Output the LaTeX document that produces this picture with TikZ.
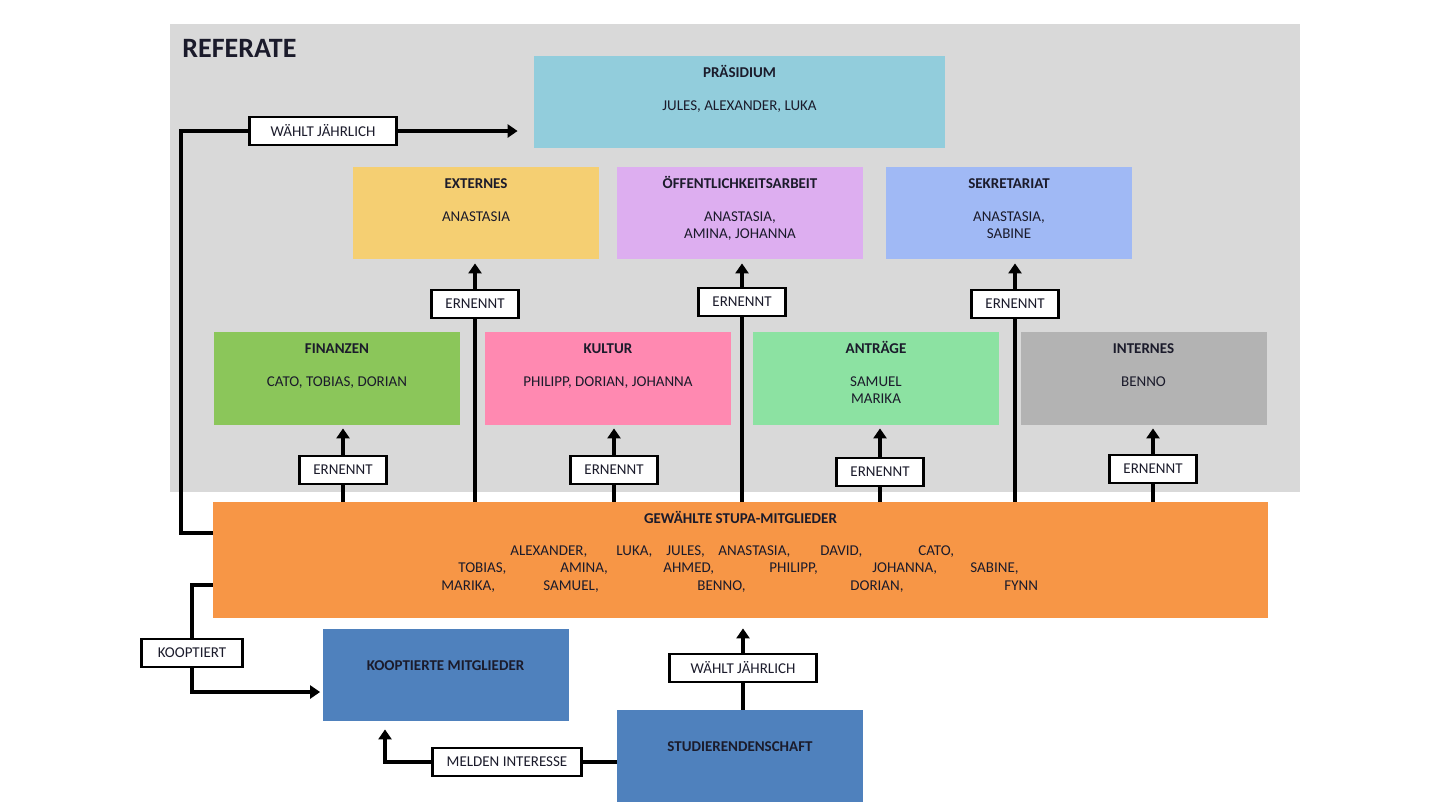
\documentclass[tikz,border=0pt]{standalone}
\usepackage{fontspec}
\setmainfont{Carlito}
\usetikzlibrary{arrows.meta,calc}
\definecolor{grund}{HTML}{D9D9D9}
\definecolor{ink}{HTML}{1B1B2B}
\definecolor{praes}{HTML}{92CDDC}
\definecolor{gelb}{HTML}{F5CF72}
\definecolor{lila}{HTML}{DDAEF0}
\definecolor{hblau}{HTML}{A0B9F5}
\definecolor{gruen}{HTML}{8BC65A}
\definecolor{rosa}{HTML}{FF89B1}
\definecolor{mint}{HTML}{8CE2A2}
\definecolor{grau}{HTML}{B3B3B3}
\definecolor{orange}{HTML}{F79646}
\definecolor{dblau}{HTML}{4F81BD}
\newcommand{\klein}{\fontsize{7.5}{8.5}\selectfont}
\newcommand{\feld}[4][118pt]{\parbox[c][#4][t]{#1}{\centering\rule{0pt}{10.5pt}\textbf{#2}\\[8pt]#3}}
\tikzset{referat/.style={inner sep=0pt,minimum width=123pt,minimum height=46pt,text=ink,font=\klein},
  kasten/.style={draw=black,line width=1.4pt,fill=white,inner xsep=7pt,inner ysep=0pt,
    minimum height=14pt,text=ink,font=\klein},
  linie/.style={line width=2pt},
  pfeil/.style={line width=2pt,-{Triangle[length=5pt,width=6.5pt]}}}

\begin{document}
\begin{tikzpicture}[x=0.5pt,y=-0.5pt]
\useasboundingbox (0,0) rectangle (1440,810);
\fill[grund] (170,24) rectangle (1300,492);
\node[anchor=base west,inner sep=0,text=ink,font=\fontsize{14}{16}\selectfont\bfseries] (titel) at (182,57) {REFERATE};
\node[referat,fill=praes,minimum width=205.5pt] (prae) at (739.5,102) {\feld[200pt]{PRÄSIDIUM}{JULES, ALEXANDER, LUKA}{46pt}};
\node[referat,fill=gelb] (ext) at (476,213) {\feld{EXTERNES}{ANASTASIA}{46pt}};
\node[referat,fill=lila] (oef) at (740,213) {\feld{ÖFFENTLICHKEITSARBEIT}{ANASTASIA,\\AMINA, JOHANNA}{46pt}};
\node[referat,fill=hblau] (sek) at (1009,213) {\feld{SEKRETARIAT}{ANASTASIA,\\SABINE}{46pt}};
\node[referat,fill=gruen] (fin) at (337,378.5) {\feld{FINANZEN}{CATO, TOBIAS, DORIAN}{46.5pt}};
\node[referat,fill=rosa] (kul) at (608,378.5) {\feld{KULTUR}{PHILIPP, DORIAN, JOHANNA}{46.5pt}};
\node[referat,fill=mint] (ant) at (876,378.5) {\feld{ANTRÄGE}{SAMUEL\\MARIKA}{46.5pt}};
\node[referat,fill=grau] (int) at (1143.5,378.5) {\feld{INTERNES}{BENNO}{46.5pt}};
\node[referat,fill=orange,minimum width=527.5pt] (stupa) at (740.5,560) {\feld[500pt]{GEWÄHLTE STUPA-MITGLIEDER}{}{58pt}};
\node[referat,fill=dblau,text depth=9pt] (koop) at (445.5,675) {\textbf{KOOPTIERTE MITGLIEDER}};
\node[referat,fill=dblau,text depth=9pt] (stud) at (740,756) {\textbf{STUDIERENDENSCHAFT}};
\foreach \x/\y/\n [count=\i] in {510/555/{ALEXANDER,},616/555/{LUKA,},666/555/{JULES,},718/555/{ANASTASIA,},
    820/555/{DAVID,},918/555/{CATO,},458/572/{TOBIAS,},560/572/{AMINA,},663/572/{AHMED,},769/572/{PHILIPP,},
    872/572/{JOHANNA,},970/572/{SABINE,},441/590/{MARIKA,},543/590/{SAMUEL,},697/590/{BENNO,},
    850/590/{DORIAN,},1004/590/{FYNN}}
  \node[anchor=base west,inner sep=0,text=ink,font=\klein] (nm\i) at (\x,\y) {\n};
\node[kasten] (e1) at (343,470) {ERNENNT};
\node[kasten] (e2) at (614,470) {ERNENNT};
\node[kasten] (e3) at (880,472) {ERNENNT};
\node[kasten] (e4) at (1153,469) {ERNENNT};
\node[kasten] (e5) at (475,304) {ERNENNT};
\node[kasten] (e6) at (742,302) {ERNENNT};
\node[kasten] (e7) at (1015,304) {ERNENNT};
\node[kasten,inner xsep=10.5pt] (w1) at (323,131) {WÄHLT JÄHRLICH};
\node[kasten,inner xsep=10.5pt] (w2) at (743,668) {WÄHLT JÄHRLICH};
\node[kasten,inner xsep=8pt] (k1) at (192,653) {KOOPTIERT};
\node[kasten] (m1) at (507,762) {MELDEN INTERESSE};
\coordinate (eckeA) at (181,131);
\draw[linie] (stupa.north -| e1) -- (e1); \draw[pfeil,shorten >=1.5pt] (e1) -- (e1 |- fin.south);
\draw[linie] (stupa.north -| e2) -- (e2); \draw[pfeil,shorten >=1.5pt] (e2) -- (e2 |- kul.south);
\draw[linie] (stupa.north -| e3) -- (e3); \draw[pfeil,shorten >=1.5pt] (e3) -- (e3 |- ant.south);
\draw[linie] (stupa.north -| e4) -- (e4); \draw[pfeil,shorten >=1.5pt] (e4) -- (e4 |- int.south);
\draw[linie] (stupa.north -| e5) -- (e5); \draw[pfeil,shorten >=2pt] (e5) -- (e5 |- ext.south);
\draw[linie] (stupa.north -| e6) -- (e6); \draw[pfeil,shorten >=2pt] (e6) -- (e6 |- oef.south);
\draw[linie] (stupa.north -| e7) -- (e7); \draw[pfeil,shorten >=2pt] (e7) -- (e7 |- sek.south);
\draw[linie] ([yshift=13.5pt]stupa.west) -| (eckeA) -- (w1);
\draw[pfeil,shorten >=8pt] (w1) -- (w1 -| prae.west);
\draw[linie] ([yshift=-12.5pt]stupa.west) -| (k1);
\draw[pfeil,shorten >=1pt] (k1) |- ([yshift=-8.5pt]koop.west);
\draw[linie] ([yshift=-3pt]stud.west) -- (m1);
\draw[pfeil,shorten >=4pt] (m1) -| ([xshift=-30.25pt]koop.south);
\draw[linie] (stud.north -| w2) -- (w2);
\draw[pfeil,shorten >=5pt] (w2) -- (w2 |- stupa.south);
\end{tikzpicture}
\end{document}
